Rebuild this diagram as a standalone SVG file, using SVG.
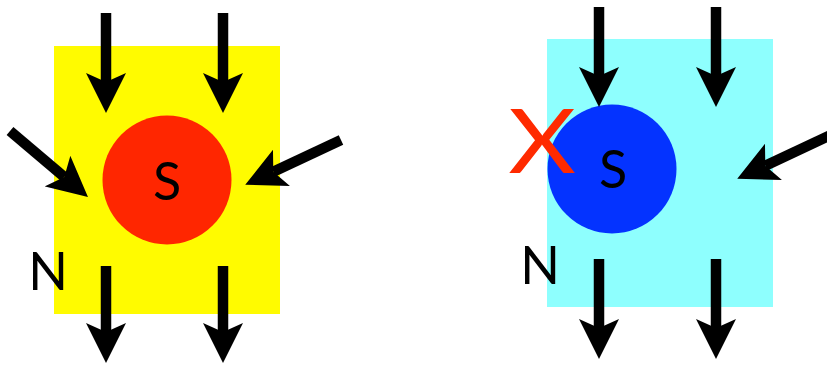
<svg xmlns="http://www.w3.org/2000/svg" width="827" height="365" viewBox="0 0 827 365">
  <style>
    .lbl { font-family: Lato, "Open Sans", "Liberation Sans", sans-serif; font-size: 52px; fill: #000; text-anchor: middle; }
    .flow { stroke: #000; stroke-width: 10.5; fill: none; marker-end: url(#head); }
  </style>
  <defs>
    <!-- notched arrowhead; refX sits on the notch so the shaft ends inside it -->
    <marker id="head" viewBox="0 -20 40 40" refX="9" refY="0" markerWidth="40" markerHeight="40" markerUnits="userSpaceOnUse" orient="auto">
      <path d="M0,-20 L40,0 L0,20 L9,0 Z" fill="#000"/>
    </marker>
  </defs>

  <!-- left field: yellow region with red pole -->
  <g id="field-left">
    <rect x="54" y="46" width="226" height="268" fill="#fffb00"/>
  </g>
  <g id="pole-left">
    <circle cx="167" cy="180" r="64.5" fill="#ff2600"/>
    <text class="lbl" x="167" y="200">S</text>
  </g>
  <g id="label-n-left">
    <text class="lbl" x="48" y="290">N</text>
  </g>

  <!-- right field: cyan region with blue pole -->
  <g id="field-right">
    <rect x="547" y="39" width="226" height="268" fill="#8efffe"/>
  </g>
  <g id="pole-right">
    <circle cx="612" cy="169" r="64.5" fill="#0433ff"/>
    <text class="lbl" x="613" y="188">S</text>
  </g>
  <g id="label-n-right">
    <text class="lbl" x="540" y="284">N</text>
  </g>
  <g id="cross">
    <text transform="translate(542 173) scale(1.16 1)" font-family="Lato, 'Open Sans', 'Liberation Sans', sans-serif" font-size="90" fill="#ff2a00" text-anchor="middle">X</text>
  </g>

  <g id="connectors">
    <!-- left panel -->
    <line class="flow" x1="106" y1="13" x2="106" y2="82"/>
    <line class="flow" x1="223" y1="13" x2="223" y2="82"/>
    <line class="flow" x1="10" y1="131" x2="64.3" y2="176.9"/>
    <line class="flow" x1="341" y1="140" x2="273.3" y2="171.7"/>
    <line class="flow" x1="106" y1="266" x2="106" y2="332"/>
    <line class="flow" x1="223" y1="266" x2="223" y2="332"/>
    <!-- right panel -->
    <line class="flow" x1="599" y1="7" x2="599" y2="76"/>
    <line class="flow" x1="716" y1="7" x2="716" y2="76"/>
    <line class="flow" x1="833" y1="134" x2="765.3" y2="165.7"/>
    <line class="flow" x1="599" y1="259" x2="599" y2="328"/>
    <line class="flow" x1="716" y1="259" x2="716" y2="328"/>
  </g>
</svg>
